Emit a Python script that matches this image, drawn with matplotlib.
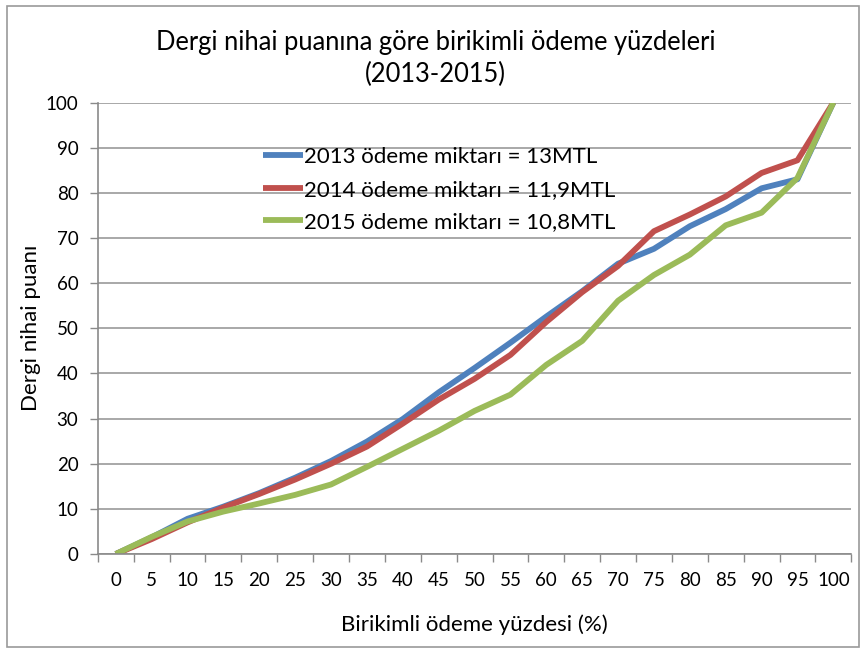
import matplotlib
matplotlib.use("Agg")
import matplotlib.pyplot as plt
from matplotlib.patches import Rectangle

# categories on the x axis (cumulative payment percent)
categories = ["0", "5", "10", "15", "20", "25", "30", "35", "40", "45", "50",
              "55", "60", "65", "70", "75", "80", "85", "90", "95", "100"]

# journal final score for each year
y2013 = [0, 3.7, 7.8, 10.5, 13.5, 16.9, 20.6, 24.9, 29.9, 35.8, 41.2,
         46.8, 52.6, 58.2, 64.3, 67.6, 72.6, 76.4, 81.0, 83.0, 100]
y2014 = [0, 3.3, 7.0, 10.3, 13.3, 16.5, 20.0, 23.8, 28.9, 34.2, 38.8,
         44.1, 51.4, 58.0, 63.8, 71.5, 75.2, 79.2, 84.4, 87.2, 100]
y2015 = [0, 3.8, 7.2, 9.4, 11.2, 13.1, 15.4, 19.3, 23.3, 27.3, 31.7,
         35.3, 41.9, 47.2, 56.1, 61.8, 66.3, 72.8, 75.6, 83.3, 100]

labels = ["2013 ödeme miktarı = 13MTL",
          "2014 ödeme miktarı = 11,9MTL",
          "2015 ödeme miktarı = 10,8MTL"]
colors = ["#4F81BD", "#C0504D", "#9BBB59"]

plt.rcParams['font.family'] = ['Lato', 'DejaVu Sans']

fig = plt.figure(figsize=(8.66, 6.53), dpi=100)
ax = fig.add_axes([0.113, 0.1516, 0.87, 0.6914])

x = list(range(len(categories)))
for ys, lab, col in zip([y2013, y2014, y2015], labels, colors):
    ax.plot(x, ys, color=col, linewidth=4.2, label=lab, solid_capstyle='butt')

ax.set_xlim(-0.5, len(categories) - 0.5)
ax.set_ylim(0, 100)
ax.set_yticks(range(0, 101, 10))
ax.yaxis.grid(True, color="#9a9a9a", linewidth=1.2)
ax.set_axisbelow(True)

# tick marks between categories, labels in the middle
ax.set_xticks([i - 0.5 for i in range(len(categories) + 1)])
ax.set_xticklabels([])
ax.set_xticks(x, minor=True)
ax.set_xticklabels(categories, minor=True)
ax.tick_params(axis='x', which='minor', length=0, pad=13, labelsize=13.5)
ax.tick_params(axis='x', which='major', length=6, color="#8a8a8a", width=1)
ax.tick_params(axis='y', length=6, color="#8a8a8a", width=1, pad=8, labelsize=13.5)

for s in ['top', 'right']:
    ax.spines[s].set_visible(False)
for s in ['left', 'bottom']:
    ax.spines[s].set_color("#8a8a8a")
    ax.spines[s].set_linewidth(1.2)

ax.set_xlabel("Birikimli ödeme yüzdesi (%)", fontsize=16, labelpad=18)
ax.set_ylabel("Dergi nihai puanı", fontsize=16, labelpad=3)

fig.text(0.503, 0.910, "Dergi nihai puanına göre birikimli ödeme yüzdeleri\n(2013-2015)",
         ha='center', va='center', fontsize=18.4, linespacing=1.35)

ax.legend(loc='upper left', bbox_to_anchor=(0.219, 0.901), frameon=False,
          fontsize=16, handlelength=1.8, handletextpad=0.05, labelspacing=0.56,
          borderaxespad=0, borderpad=0)

# chart border
fig.patches.append(Rectangle((7 / 866, 6 / 653), 852 / 866, 641 / 653,
                             transform=fig.transFigure, fill=False,
                             edgecolor="#9a9a9a", linewidth=1.2))

fig.savefig("out.png", dpi=100)
